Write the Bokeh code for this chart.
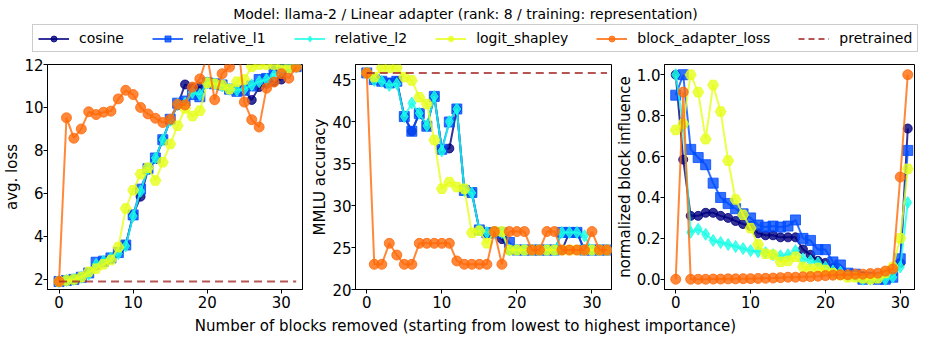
from bokeh.plotting import figure
from bokeh.layouts import column, row
from bokeh.models import Range1d, FixedTicker, Legend, LegendItem, PrintfTickFormatter
from bokeh.core.properties import value
from bokeh.embed import file_html
from bokeh.resources import INLINE

# ---------------- data ----------------
title_text = "Model: llama-2 / Linear adapter (rank: 8 / training: representation)"
xlabel_text = "Number of blocks removed (starting from lowest to highest importance)"
series_names = ["cosine", "relative_l1", "relative_l2", "logit_shapley", "block_adapter_loss"]
pretrained_name = "pretrained"

blocks_removed = list(range(33))
block_index = list(range(32))

loss_cosine = [1.9, 1.95, 2.0, 2.1, 2.3, 2.65, 2.8, 2.95, 3.25, 3.6, 5.0, 5.85, 7.1, 7.6, 8.5, 9.4, 10.1,
               11.07, 10.9, 10.95, 11.15, 11.1, 11.05, 10.85, 10.8, 10.8, 10.35, 10.95, 11.1, 11.2, 11.3, 11.85, 11.9]
loss_l1 = [1.9, 1.95, 2.0, 2.1, 2.3, 2.8, 2.85, 3.0, 3.25, 3.6, 5.0, 6.2, 7.15, 7.65, 8.5, 9.45, 10.2,
           10.3, 10.6, 10.5, 11.15, 11.1, 11.05, 10.85, 10.75, 10.8, 11.0, 11.3, 11.35, 11.85, 11.95, 11.95, 11.9]
loss_l2 = [1.9, 1.95, 2.0, 2.1, 2.25, 2.7, 2.85, 3.0, 3.2, 3.55, 4.95, 6.1, 7.15, 7.65, 8.5, 9.4, 10.15,
           10.2, 10.7, 10.6, 11.15, 11.1, 11.0, 10.85, 10.8, 10.85, 11.05, 11.2, 11.3, 11.5, 11.7, 11.85, 11.9]
loss_shapley = [1.9, 1.95, 2.0, 2.1, 2.35, 2.5, 2.7, 2.9, 3.5, 5.3, 6.15, 6.9, 7.2, 6.6, 7.45, 8.3, 9.15,
                9.95, 9.6, 9.85, 11.15, 11.1, 11.05, 10.85, 11.2, 11.3, 11.9, 12.0, 12.0, 12.0, 11.9, 11.85, 11.9]
loss_adapter = [1.9, 9.52, 8.57, 9.0, 9.8, 9.67, 9.78, 9.83, 10.4, 10.8, 10.6, 10.0, 9.7, 9.5, 9.3, 9.45, 10.15,
                10.12, 10.95, 11.33, 12.4, 10.36, 11.57, 11.88, 13.5, 10.25, 9.43, 9.09, 10.9, 11.18, 11.57, 11.36, 11.88]
loss_pretrained = 1.9

mmlu_cosine = [45.8, 45.0, 44.8, 44.6, 44.8, 40.6, 38.85, 40.95, 39.45, 43.0, 36.7, 36.8, 41.5, 31.8, 31.55, 27.1,
               26.75, 26.75, 26.0, 24.7, 24.7, 24.7, 24.7, 24.7, 24.7, 24.7, 24.7, 26.8, 26.8, 24.7, 24.7, 24.7, 24.7]
mmlu_l1 = [45.8, 45.0, 44.8, 44.6, 44.8, 40.6, 38.85, 40.95, 39.45, 43.0, 36.7, 39.95, 41.5, 31.8, 31.55, 27.1,
           26.75, 26.75, 26.75, 25.6, 24.7, 24.7, 24.7, 24.7, 24.7, 24.7, 26.8, 26.8, 26.8, 24.7, 24.7, 24.7, 24.7]
mmlu_l2 = [45.8, 44.9, 44.8, 44.3, 44.5, 40.6, 42.2, 41.0, 39.5, 43.0, 36.5, 40.0, 41.5, 31.8, 31.5, 27.1,
           26.8, 26.8, 26.8, 24.7, 24.7, 24.7, 24.7, 24.7, 24.7, 24.7, 26.8, 26.8, 26.8, 26.4, 24.7, 24.7, 24.7]
mmlu_shapley = [45.8, 45.3, 46.4, 46.4, 46.4, 45.3, 44.9, 42.9, 42.1, 37.8, 32.0, 32.8, 32.2, 32.0, 26.75, 27.0,
                25.5, 26.9, 26.9, 24.7, 24.7, 24.7, 24.7, 24.7, 24.7, 24.7, 24.7, 24.7, 24.7, 24.7, 24.7, 24.7, 24.7]
mmlu_adapter = [45.8, 23.0, 23.0, 25.5, 24.1, 23.0, 23.0, 25.5, 25.5, 25.5, 25.5, 25.5, 23.4, 23.0, 23.0, 23.0,
                23.0, 26.9, 23.0, 26.9, 26.9, 26.9, 24.7, 24.7, 26.9, 26.9, 24.7, 24.7, 24.7, 24.7, 26.9, 24.7, 24.7]
mmlu_pretrained = 45.8

inf_cosine = [1.0, 0.585, 0.31, 0.31, 0.325, 0.325, 0.31, 0.30, 0.285, 0.27, 0.26, 0.225, 0.215, 0.215, 0.205, 0.205,
              0.205, 0.146, 0.12, 0.09, 0.08, 0.055, 0.04, 0.025, 0.02, 0.015, 0.01, 0.01, 0.02, 0.03, 0.08, 0.737]
inf_l1 = [0.9, 1.0, 0.635, 0.595, 0.56, 0.47, 0.40, 0.37, 0.345, 0.32, 0.30, 0.265, 0.255, 0.26, 0.255, 0.26,
          0.29, 0.20, 0.19, 0.145, 0.145, 0.085, 0.07, 0.03, 0.025, 0.0, 0.01, 0.0, 0.0, 0.01, 0.1, 0.63]
inf_l2 = [1.0, 0.75, 0.23, 0.245, 0.22, 0.19, 0.18, 0.17, 0.16, 0.15, 0.14, 0.135, 0.13, 0.12, 0.115, 0.12,
          0.14, 0.10, 0.09, 0.08, 0.06, 0.04, 0.035, 0.02, 0.02, 0.0, 0.0, 0.01, 0.0, 0.01, 0.06, 0.375]
inf_shapley = [0.73, 0.76, 1.0, 0.915, 0.685, 0.95, 0.82, 0.58, 0.39, 0.315, 0.25, 0.17, 0.125, 0.12, 0.085, 0.09,
               0.11, 0.06, 0.05, 0.055, 0.045, 0.03, 0.02, 0.01, 0.01, 0.005, 0.0, 0.005, 0.03, 0.06, 0.2, 0.54]
inf_adapter = [0.0, 0.915, 0.0, 0.0, 0.0, 0.001, 0.001, 0.002, 0.002, 0.003, 0.003, 0.004, 0.005, 0.006, 0.008, 0.01,
               0.01, 0.012, 0.013, 0.015, 0.018, 0.02, 0.022, 0.022, 0.025, 0.025, 0.028, 0.03, 0.04, 0.05, 0.5, 1.0]

loss_ticks = [2, 4, 6, 8, 10, 12]
mmlu_ticks = [20, 25, 30, 35, 40, 45]
inf_ticks = [0.0, 0.2, 0.4, 0.6, 0.8, 1.0]
x_ticks = [0, 10, 20, 30]

# ---------------- styles ----------------
FONT = "DejaVu Sans"
colors = ["#00007f", "#004cff", "#1affe6", "#e6ff1a", "#ff6a0a"]
markers = ["circle", "square", "diamond", "hex", "circle"]
msizes = [9, 10, 12, 11, 10]
ALPHA = 0.8
pre_color = "#a52a2a"
DASH = "8 5"


def make_panel(width, xr, yr, yticks, ylabel, min_left, min_right, fmt=None):
    p = figure(width=width, height=257, x_range=Range1d(*xr), y_range=Range1d(*yr),
               output_backend="svg", toolbar_location=None,
               min_border_left=min_left, min_border_right=min_right,
               min_border_top=6, min_border_bottom=26)
    p.xgrid.visible = False
    p.ygrid.visible = False
    p.outline_line_color = "black"
    p.outline_line_alpha = 1.0
    p.outline_line_width = 1
    p.background_fill_color = "white"
    p.border_fill_color = "white"
    p.xaxis.ticker = FixedTicker(ticks=x_ticks)
    p.yaxis.ticker = FixedTicker(ticks=yticks)
    if fmt:
        p.yaxis.formatter = PrintfTickFormatter(format=fmt)
    for ax in (p.xaxis[0], p.yaxis[0]):
        ax.major_label_text_font = FONT
        ax.major_label_text_font_size = "15px"
        ax.major_label_text_color = "black"
        ax.minor_tick_line_color = None
        ax.major_tick_in = 0
        ax.major_tick_out = 4
        ax.major_tick_line_color = "black"
        ax.axis_line_color = "black"
    p.yaxis.major_label_standoff = 0
    p.xaxis.major_label_standoff = 2
    p.yaxis.axis_label = ylabel
    p.yaxis.axis_label_text_font = FONT
    p.yaxis.axis_label_text_font_size = "15px"
    p.yaxis.axis_label_text_font_style = "normal"
    p.yaxis.axis_label_text_color = "black"
    p.yaxis.axis_label_text_line_height = 1.0
    p.yaxis.axis_label_standoff = 0
    return p


def draw_series(p, x, ys, pre=None, xpre=None):
    for y, c, m, s in zip(ys, colors, markers, msizes):
        p.line(x, y, line_color=c, line_width=2, line_alpha=ALPHA)
        p.scatter(x, y, marker=m, size=s, fill_color=c, line_color=c,
                  fill_alpha=ALPHA, line_alpha=ALPHA)
    if pre is not None:
        p.line(xpre, [pre] * len(xpre), line_color=pre_color, line_width=2,
               line_alpha=ALPHA, line_dash=DASH)


p1 = make_panel(308, (-1.56, 32.85), (1.53, 12.0), loss_ticks, "avg. loss", 45, 6)
draw_series(p1, blocks_removed,
            [loss_cosine, loss_l1, loss_l2, loss_shapley, loss_adapter],
            loss_pretrained, blocks_removed)

p2 = make_panel(304, (-1.5, 32.6), (20.0, 46.8), mmlu_ticks, "MMLU accuracy", 46, 1)
draw_series(p2, blocks_removed,
            [mmlu_cosine, mmlu_l1, mmlu_l2, mmlu_shapley, mmlu_adapter],
            mmlu_pretrained, blocks_removed)

p3 = make_panel(322, (-1.5, 31.9), (-0.05, 1.05), inf_ticks, "normalized block influence", 51, 20, fmt="%.1f")
draw_series(p3, block_index,
            [inf_cosine, inf_l1, inf_l2, inf_shapley, inf_adapter])

# ---------------- header: title + legend ----------------
head = figure(width=934, height=58, x_range=Range1d(0, 934), y_range=Range1d(0, 58),
              output_backend="svg", toolbar_location=None, min_border=0)
head.axis.visible = False
head.grid.visible = False
head.outline_line_color = None
head.text(x=[465], y=[53], text=[title_text], text_align="center", text_baseline="top",
          text_font=value(FONT), text_font_size="14px", text_color="black")

items = []
for name, c, m, s in zip(series_names, colors, markers, msizes):
    lr = head.line([-100, -90], [-100, -100], line_color=c, line_width=2, line_alpha=ALPHA)
    sr = head.scatter([-100], [-100], marker=m, size=s * 0.8, fill_color=c, line_color=c,
                      fill_alpha=ALPHA, line_alpha=ALPHA)
    items.append(LegendItem(label=name, renderers=[lr, sr]))
pr = head.line([-100, -90], [-100, -100], line_color=pre_color, line_width=2,
               line_alpha=ALPHA, line_dash="6 4")
items.append(LegendItem(label=pretrained_name, renderers=[pr]))

legend = Legend(items=items, orientation="horizontal", location=(32, 6),
                label_text_font=FONT, label_text_font_size="14px", label_text_color="black",
                glyph_width=31, glyph_height=15, label_height=15, label_standoff=10,
                spacing=28, padding=5, margin=0,
                border_line_color="#cccccc", border_line_alpha=1.0, border_line_width=1,
                background_fill_color="white", background_fill_alpha=1.0)
head.add_layout(legend)

# ---------------- footer: x label ----------------
foot = figure(width=934, height=26, x_range=Range1d(0, 934), y_range=Range1d(0, 26),
              output_backend="svg", toolbar_location=None, min_border=0)
foot.axis.visible = False
foot.grid.visible = False
foot.outline_line_color = None
foot.text(x=[465], y=[16], text=[xlabel_text], text_align="center", text_baseline="middle",
          text_font=value(FONT), text_font_size="15px", text_color="black")

layout = column(head, row(p1, p2, p3), foot)
open("out.html", "w").write(file_html(layout, INLINE))
